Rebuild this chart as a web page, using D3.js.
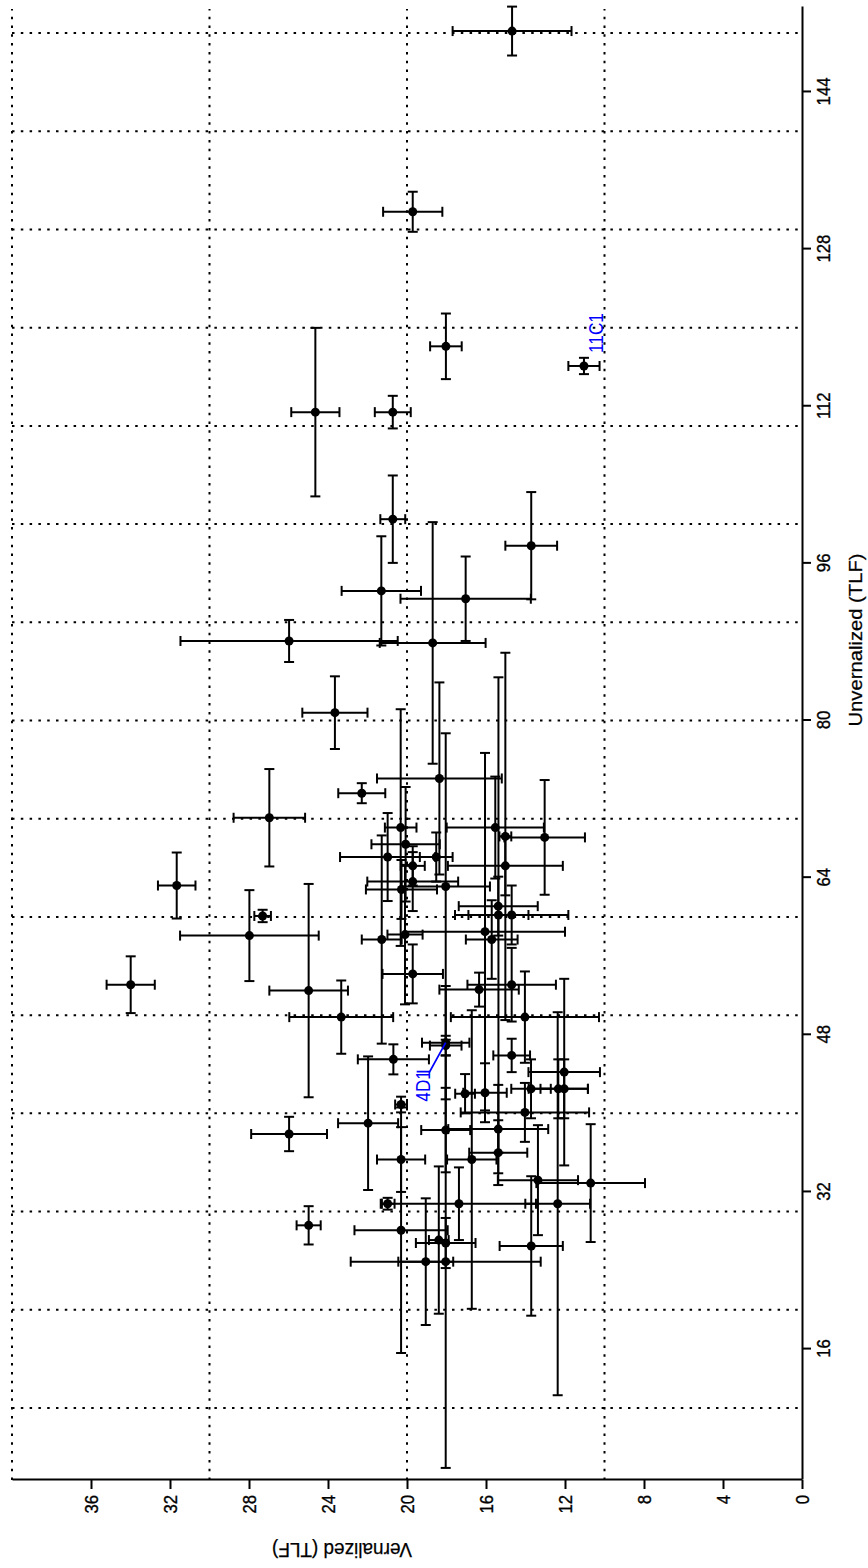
<!DOCTYPE html>
<html>
<head>
<meta charset="utf-8">
<script src="https://cdn.jsdelivr.net/npm/d3@7"></script>
<style>
  html, body { margin: 0; padding: 0; background: #fff; }
  svg { display: block; }
</style>
</head>
<body>
<svg id="chart" width="868" height="1568"></svg>
<script>
// Mean leaf number (TLF) per line, with error bars, unvernalized vs vernalized
const unvernalized = [150.2, 131.8, 118.1, 116.1, 111.4, 111.4, 100.5, 97.8, 92.4, 93.2, 87.9, 88.1,
  80.8, 72.6, 74.1, 69.1, 68.1, 68.2, 69.1, 67.4, 66.1, 66.1, 65.2, 63.6, 65.2,
  62.8, 63.1, 61.1, 60.2, 60.2, 58.5, 58.2, 57.7, 57.7, 54.2, 52.5, 49.8, 52.6, 53.1, 49.8,
  45.9, 44.2, 42.5, 42.5, 42.5, 40.1, 42.1, 42.0, 45.5, 40.9, 47.2, 46.9,
  70.1, 63.2, 60.1, 58.1, 53.1, 37.9,
  39.0, 38.3, 38.4, 35.3, 35.3, 36.0, 33.2, 26.5, 32.9, 30.8, 30.8, 30.8, 28.6, 28.1, 27.1, 26.8, 24.9, 24.9];
const vernalized = [14.68, 19.71, 18.03, 11.04, 24.64, 20.72, 20.72, 13.71, 17.03, 21.30, 18.70, 25.97,
  23.65, 22.29, 18.36, 15.53, 13.03, 15.02, 20.32, 20.07, 20.98, 18.52, 19.71, 19.71, 15.02,
  20.28, 18.04, 15.38, 15.37, 14.70, 16.05, 20.10, 21.28, 15.71, 19.71, 24.98, 23.33, 16.35, 14.70, 14.03,
  14.70, 12.04, 12.34, 12.04, 13.72, 14.03, 16.05, 17.06, 20.69, 20.30, 18.04, 18.04,
  26.97, 31.66, 27.31, 27.98, 33.99, 25.97,
  21.97, 18.04, 15.38, 20.30, 16.72, 15.38, 13.37, 13.71, 10.70, 12.37, 17.37, 20.98, 24.98, 20.30, 18.39, 18.04, 19.05, 18.04];
const unvernalizedErr = [2.49, 2.04, 3.34, 0.83, 8.58, 1.66, 4.45, 5.46, 4.3, 5.56, 12.3, 2.14,
  3.70, 1.02, 9.78, 5.19, 5.84, 18.7, 12.05, 5.83, 4.48, 2.5, 2.0, 3.0, 3.0,
  3.0, 15.6, 3.0, 24.2, 3.0, 18.2, 7.1, 10.6, 4.0, 3.0, 10.86, 3.73, 1.73, 3.75, 4.65,
  1.7, 9.5, 3.0, 3.0, 3.0, 3.0, 3.0, 2.0, 1.53, 0.8, 5.77, 1.0,
  4.96, 3.36, 0.63, 4.63, 2.89, 1.75,
  6.8, 4.3, 4.5, 3.3, 15.2, 3.3, 5.6, 7.1, 6.0, 19.5, 3.7, 0.6, 1.95, 12.5, 7.5, 2.55, 6.45, 21.0];
const vernalizedErr = [3.01, 1.50, 0.80, 0.79, 1.22, 0.91, 0.63, 1.31, 3.30, 2.01, 2.68, 5.5,
  1.65, 1.19, 3.16, 2.46, 2.04, 0.30, 0.8, 1.73, 2.41, 0.83, 0.61, 2.3, 2.91,
  1.80, 2.24, 2.0, 1.52, 2.87, 4.05, 0.89, 1.01, 1.31, 1.53, 1.99, 2.63, 2.01, 2.24, 3.75,
  0.93, 1.81, 1.5, 1.2, 1.0, 3.25, 1.1, 0.5, 1.8, 0.3, 1.2, 0.8,
  1.81, 0.95, 0.42, 3.51, 1.22, 1.92,
  1.52, 1.24, 2.53, 1.22, 1.25, 1.47, 2.03, 1.6, 2.75, 1.64, 3.9, 0.35, 0.61, 2.36, 0.5, 1.51, 1.39, 4.81];

const xTicks = [16, 32, 48, 64, 80, 96, 112, 128, 144];
const yTicks = [0, 4, 8, 12, 16, 20, 24, 28, 32, 36];
const xGrid = [10, 20, 30, 40, 50, 60, 70, 80, 90, 100, 110, 120, 130, 140, 150];
const yGrid = [10, 20, 30, 40];

// Named lines marked on the plot
const calloutNames = ["11C1", "4D1"];
const calloutIndex = [3, 50];

const points = unvernalized.map((u, i) => ({
  u, v: vernalized[i], ue: unvernalizedErr[i], ve: vernalizedErr[i]
}));

// The plot is built in its natural orientation and turned a quarter turn
const W = 1473, H = 790;
const FONT = "'Liberation Sans', Arial, Helvetica, sans-serif";
const NARROW = 0.88;

const x = d3.scaleLinear().domain([2.67, 152.65]).range([0, W]);
const y = d3.scaleLinear().domain([0, 40]).range([H, 0]);

const svg = d3.select('#chart');
svg.append('rect').attr('width', 868).attr('height', 1568).attr('fill', '#fff');

const g = svg.append('g').attr('transform', 'translate(12,1480) rotate(-90)');

// dotted grid
const grid = g.append('g')
  .attr('stroke', '#000')
  .attr('stroke-width', 2)
  .attr('stroke-dasharray', '2.5,6.3')
  .attr('fill', 'none');
grid.selectAll('line.gx').data(xGrid).join('line')
  .attr('class', 'gx')
  .attr('x1', d => x(d)).attr('x2', d => x(d))
  .attr('y1', 0).attr('y2', H);
grid.selectAll('line.gy').data(yGrid).join('line')
  .attr('class', 'gy')
  .attr('x1', 0).attr('x2', W - 2)
  .attr('y1', d => y(d)).attr('y2', d => y(d));

// error bars
const CAP = 5;
const bars = g.append('g').attr('stroke', '#000').attr('stroke-width', 2).attr('fill', 'none');
const eb = bars.selectAll('g').data(points).join('g');
eb.append('line')
  .attr('x1', d => x(d.u - d.ue)).attr('x2', d => x(d.u + d.ue))
  .attr('y1', d => y(d.v)).attr('y2', d => y(d.v));
eb.append('line')
  .attr('x1', d => x(d.u - d.ue)).attr('x2', d => x(d.u - d.ue))
  .attr('y1', d => y(d.v) - CAP).attr('y2', d => y(d.v) + CAP);
eb.append('line')
  .attr('x1', d => x(d.u + d.ue)).attr('x2', d => x(d.u + d.ue))
  .attr('y1', d => y(d.v) - CAP).attr('y2', d => y(d.v) + CAP);
eb.append('line')
  .attr('x1', d => x(d.u)).attr('x2', d => x(d.u))
  .attr('y1', d => y(d.v - d.ve)).attr('y2', d => y(d.v + d.ve));
eb.append('line')
  .attr('x1', d => x(d.u) - CAP).attr('x2', d => x(d.u) + CAP)
  .attr('y1', d => y(d.v - d.ve)).attr('y2', d => y(d.v - d.ve));
eb.append('line')
  .attr('x1', d => x(d.u) - CAP).attr('x2', d => x(d.u) + CAP)
  .attr('y1', d => y(d.v + d.ve)).attr('y2', d => y(d.v + d.ve));

// means
g.append('g').selectAll('circle').data(points).join('circle')
  .attr('cx', d => x(d.u)).attr('cy', d => y(d.v))
  .attr('r', 4.5).attr('fill', '#000');

// axes
const xAxis = g.append('g')
  .attr('transform', `translate(0,${H})`)
  .call(d3.axisBottom(x).tickValues(xTicks).tickSize(9).tickSizeOuter(0).tickPadding(6));
const yAxis = g.append('g')
  .call(d3.axisLeft(y).tickValues(yTicks).tickSize(9).tickSizeOuter(0).tickPadding(6));

[xAxis, yAxis].forEach(ax => {
  ax.select('.domain').attr('stroke', '#000').attr('stroke-width', 2);
  ax.selectAll('.tick line').attr('stroke', '#000').attr('stroke-width', 2);
  ax.selectAll('.tick text')
    .attr('fill', '#000')
    .attr('stroke', '#000').attr('stroke-width', 0.35)
    .style('font-family', FONT)
    .style('font-size', '19px')
    .attr('transform', `scale(${NARROW},1)`);
});
yAxis.selectAll('.tick text').attr('x', -15 / NARROW);

// axis titles
g.append('text')
  .attr('x', 840).attr('y', 850)
  .attr('text-anchor', 'middle')
  .attr('textLength', 173).attr('lengthAdjust', 'spacingAndGlyphs')
  .attr('stroke', '#000').attr('stroke-width', 0.25)
  .style('font-family', FONT).style('font-size', '19px')
  .text('Unvernalized (TLF)');

g.append('text')
  .attr('transform', 'translate(-63,330) rotate(-90)')
  .attr('text-anchor', 'middle')
  .attr('textLength', 140).attr('lengthAdjust', 'spacingAndGlyphs')
  .attr('stroke', '#000').attr('stroke-width', 0.25)
  .style('font-family', FONT).style('font-size', '21px')
  .text('Vernalized (TLF)');

// callouts
const BLUE = '#0000ff';
const p11 = points[calloutIndex[0]];
g.append('text')
  .attr('transform', `translate(${x(p11.u) + 13},${y(p11.v) + 19}) scale(0.82,1)`)
  .attr('fill', BLUE)
  .style('font-family', FONT).style('font-size', '21px')
  .text(calloutNames[0]);

const p4 = points[calloutIndex[1]];
const lx = x(p4.u) - 59, ly = y(p4.v) - 16;
g.append('text')
  .attr('transform', `translate(${lx},${ly}) scale(0.82,1)`)
  .attr('fill', BLUE)
  .style('font-family', FONT).style('font-size', '21px')
  .text(calloutNames[1]);
g.append('path')
  .attr('d', d3.line()([[lx + 30, ly - 13], [lx + 30, ly], [x(p4.u), y(p4.v)]]))
  .attr('stroke', BLUE).attr('stroke-width', 1.8).attr('fill', 'none');
</script>
</body>
</html>
